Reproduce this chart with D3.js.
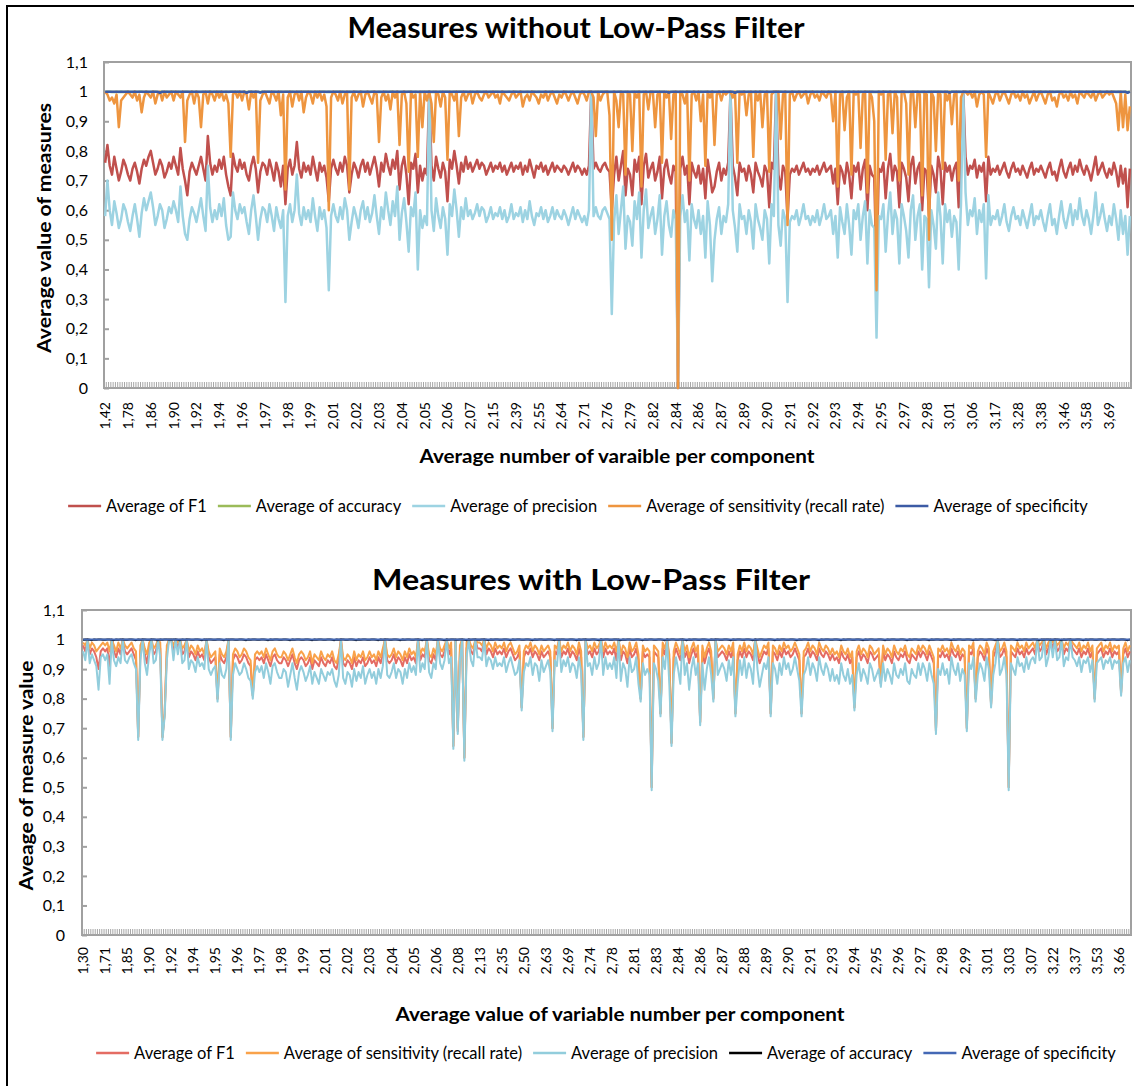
<!DOCTYPE html>
<html>
<head>
<meta charset="utf-8">
<script src="https://cdn.jsdelivr.net/npm/d3@7"></script>
<style>
  body { margin: 0; background: #fff; }
  svg { display: block; font-family: Lato, "Open Sans", sans-serif; }
</style>
</head>
<body>
<svg id="chart" width="1134" height="1086"></svg>
<script>
// ---------- top chart: measures without low-pass filter (values in %) ----------
var topLabels = ["1,42","1,78","1,86","1,90","1,92","1,94","1,96","1,97","1,98","1,99",
  "2,01","2,02","2,03","2,04","2,05","2,06","2,07","2,15","2,39","2,55","2,64","2,71",
  "2,76","2,79","2,82","2,84","2,86","2,87","2,89","2,90","2,91","2,92","2,93","2,94",
  "2,95","2,97","2,98","3,01","3,06","3,17","3,28","3,38","3,46","3,58","3,69"];

var topF1 = `
76 82 75 72 78 74 70 73 77 75  72 70 74 76 73 69 74 77 75 78  80 76 72 74 77 75 71 73 76 74
78 75 72 81 74 70 65 73 76 74  72 75 78 74 70 85 76 72 75 73  77 74 78 72 68 65 79 75 73 77
74 76 72 70 75 78 74 66 73 76  75 72 77 74 70 76 73 68 75 62  74 77 72 75 83 74 71 76 73 75
72 78 74 70 76 73 75 71 63 74  77 74 72 76 73 78 75 66 72 76  74 71 75 77 73 76 72 75 78 74
68 76 73 79 75 72 77 74 80 67  75 78 72 62 76 74 79 66 75 70  74 72 100 75 70 78 74 71 76 73
63 77 74 80 75 69 76 73 78 74  76 73 75 77 74 76 75 72 74 76  73 75 74 76 73 75 72 74 76 73
75 74 76 72 75 73 77 74 71 75  74 76 73 75 72 74 76 73 75 74  73 75 74 72 74 76 73 75 74 72
74 72 75 100 74 76 74 73 75 76  74 73 60 72 78 70 75 80 65 74  72 65 77 73 78 62 75 79 71 74
76 70 73 78 64 74 77 72 69 75  73 0 74 78 72 75 62 76 73 71  75 69 74 64 77 72 66 68 73 76
70 74 72 76 100 75 71 65 76 73  74 70 75 72 66 76 73 71 68 75  73 61 76 74 100 72 67 75 73 57
72 74 73 75 72 74 76 73 74 72  74 73 75 72 74 76 73 74 75 69  74 62 75 73 69 76 72 64 75 73
76 67 74 77 60 75 72 71 40 74  73 76 64 74 79 70 75 73 61 76  74 71 63 75 78 69 74 76 60 74
73 58 75 72 66 78 74 62 76 73  75 70 74 76 61 76 100 78 72 75  74 77 71 75 73 76 63 78 72 74
73 75 72 74 76 73 71 74 76 73  74 72 75 73 71 74 76 72 74 73  75 73 71 74 76 72 73 70 74 77
73 71 74 76 72 75 73 77 74 72  75 73 70 74 78 72 74 76 73 71  74 72 76 73 68 75 69 74 61 74`;

var topPrecision = `
58 70 60 55 63 59 54 57 62 60  56 53 58 62 57 51 59 64 60 63  66 61 55 58 62 60 54 57 61 59
63 60 56 68 58 52 50 57 61 59  56 60 64 58 53 75 61 56 60 57  62 58 64 55 50 51 66 60 57 62
59 61 56 52 60 65 58 50 57 61  60 56 62 58 53 61 57 54 60 29  58 62 56 60 72 59 55 61 57 60
56 64 58 53 61 57 60 54 33 58  62 58 56 61 57 64 60 50 56 61  58 54 60 63 57 61 56 59 65 58
52 61 57 66 60 55 63 58 68 50  59 64 56 46 61 58 66 40 60 54  58 55 100 60 53 64 58 54 61 57
45 62 58 67 60 51 61 57 64 58  60 57 59 62 58 61 60 56 58 61  57 59 58 61 57 60 56 58 62 57
59 58 61 56 60 57 63 58 55 59  58 61 57 60 56 58 61 57 60 58  57 60 58 55 58 61 57 60 58 56
58 55 60 100 58 61 58 57 60 61  59 57 25 56 65 52 60 68 47 58  56 48 63 57 66 44 60 67 54 58
61 52 57 65 45 58 63 55 51 60  57 0 58 65 56 60 43 62 57 54  60 52 58 44 63 55 36 50 57 61
52 58 56 62 100 60 54 46 62 57  58 52 60 56 47 62 57 54 50 60  57 42 62 58 100 55 48 60 57 29
56 58 57 60 55 58 62 57 58 55  58 56 60 55 58 62 57 58 60 52  58 44 61 56 52 62 55 45 60 57
62 50 58 63 42 60 55 54 17 58  57 62 46 58 66 52 60 57 42 62  58 53 44 60 65 50 58 62 40 58
57 34 60 55 47 66 58 42 62 56  60 51 58 56 40 62 100 66 55 60  58 64 52 60 56 62 37 65 55 58
57 60 55 58 62 56 53 58 61 57  58 55 60 57 54 58 62 55 58 57  60 56 53 58 62 55 57 52 58 63
57 54 58 62 55 60 57 64 58 55  60 57 52 58 66 55 58 62 57 53  58 55 62 57 50 60 52 58 45 58`;

var topSensitivity = `
100 99 97 98 96 99 88 97 98 99  100 99 98 100 97 99 93 98 100 99  98 100 96 99 100 97 100 98 99 100
97 100 99 98 100 83 97 99 100 96  100 98 88 99 100 96 100 99 97 100  98 100 97 99 96 78 99 100 98 100
97 100 99 94 100 98 100 76 97 99  100 98 96 100 99 97 100 92 99 67  98 100 95 99 100 97 100 93 98 100
99 96 100 98 100 97 99 95 60 98  100 99 97 100 96 99 100 67 98 100  97 99 100 95 99 100 98 96 100 99
83 98 100 97 99 94 100 98 100 82  99 100 96 73 100 98 99 78 100 88  100 97 100 96 83 100 99 95 100 98
77 100 99 97 100 85 98 100 97 99  100 96 99 100 98 97 99 100 98 99  100 98 99 96 100 99 98 97 99 100
98 99 100 95 98 99 97 100 99 98  96 99 98 100 97 99 100 98 96 99  98 100 99 97 99 100 98 96 99 100
99 97 100 100 98 85 100 97 99 100  100 92 50 100 97 88 100 99 72 100  99 80 100 98 100 68 99 100 94 100
100 88 99 100 76 100 98 100 84 99  100 0 100 99 96 100 70 99 100 97  100 90 99 75 100 98 100 82 99 100
97 100 99 100 100 98 100 76 100 99  100 92 99 100 78 100 97 100 88 99  100 73 99 100 100 100 84 99 100 55
99 100 97 99 100 98 99 100 96 99  100 98 99 97 100 99 98 100 99 90  100 68 99 100 87 98 100 72 100 99
100 81 99 100 66 100 98 90 33 100  99 100 77 99 100 86 100 98 70 100  100 96 72 99 100 88 100 99 65 100
99 50 100 98 80 100 99 74 100 97  100 89 99 100 70 98 100 100 99 100  98 100 95 99 100 99 78 100 98 96
99 100 97 99 100 98 96 99 100 98  99 97 100 98 99 96 98 100 97 99  100 98 96 99 100 97 98 95 99 100
98 99 97 100 98 99 96 100 99 98  100 99 98 100 97 99 100 98 99 100  99 100 98 96 87 100 88 99 87 95`;

// near-one series: each digit = thousandths below 1
var topAccuracy = `
10011010100110100101100110101001011001010110100101
01101001011010010110100101101001011010010110100101
10010110100101101001011010010110100101101001011010
01101001011010010110100101101001011010010110100101
10010110100101101001011010010110100101101001011010
01101001011010010110100101101001011010010110100101
10010110100101101001011010010110100101101001011010
01101001011010010110100101101001011010010110100101
10010110100101101001011010010110100101101001011010`;

var topSpecificity = `
00000000000000000000000040000000000000000000000000
00000000000040000030000000000000000000000000000000
00000000000000000000000000000000000000000000000000
00000000000000000000000000000000000000000000000000
00000000000000000000000000000000000000000000000300
00000000000000000000000000400000000000000000000000
00000000000000000000000000000000000000000000000000
00000000000000000000300000000000000000000000000000
00000000000000000000000000000000000000000000000040`;

// ---------- bottom chart: measures with low-pass filter (values in %) ----------
var bottomLabels = ["1,30","1,71","1,85","1,90","1,92","1,94","1,95","1,96","1,97","1,98",
  "1,99","2,01","2,02","2,03","2,04","2,05","2,06","2,08","2,13","2,35","2,50","2,63",
  "2,69","2,74","2,78","2,81","2,83","2,84","2,86","2,87","2,88","2,89","2,90","2,91",
  "2,93","2,94","2,95","2,96","2,97","2,98","2,99","3,01","3,03","3,07","3,22","3,37",
  "3,53","3,66"];

var bottomSensitivity = `
99 98 100 97 99 98 96 97 98 99  98 99 96 100 98 96 99 97 100 98  97 98 99 97 96 67 98 100 97 95
99 100 97 98 100 99 67 75 98 100  100 98 100 99 100 97 98 100 96 98  97 95 98 96 97 95 100 96 94 95
96 80 97 95 94 96 100 67 95 97  96 94 95 97 96 94 93 81 95 96  95 96 94 97 95 93 96 97 95 94
94 96 95 93 95 97 94 92 95 96  95 93 94 96 92 95 94 93 96 94  93 95 94 96 93 92 95 100 94 93
95 94 92 96 93 95 94 96 93 94  96 94 95 93 96 94 97 100 95 94  95 97 94 96 95 93 96 94 97 95
96 94 100 95 97 96 100 95 94 97  95 100 97 96 98 100 97 99 64 100  70 98 100 60 99 100 98 97 100 99
99 98 100 97 99 98 96 99 97 98  97 99 96 98 99 97 95 96 98 77  96 98 97 99 96 98 97 95 98 96
97 98 96 70 98 97 100 96 98 97  99 96 98 97 95 99 96 67 100 97  98 96 99 97 98 100 96 99 97 98
97 99 96 100 95 98 97 94 99 96  97 99 95 80 98 96 97 96 50 98  97 96 75 99 97 100 95 65 96 99
97 95 100 96 98 94 97 99 96 98  72 98 94 97 99 96 80 100 96 97  98 97 95 98 96 99 75 95 98 96
99 96 98 97 95 100 97 94 96 98  97 99 75 98 97 95 98 96 99 97  98 96 97 99 97 95 75 96 97 99
96 98 97 95 99 97 96 98 97 95  97 95 96 94 98 96 95 97 94 96  77 96 98 95 97 96 94 98 97 95
96 97 85 98 95 97 96 94 98 96  95 97 96 98 95 94 97 96 95 98  96 98 97 95 98 96 94 69 97 96
98 96 97 95 99 97 96 98 95 97  96 70 98 97 99 80 96 98 97 95  99 97 78 96 98 100 96 97 99 96
50 98 97 96 99 97 98 96 99 97  98 99 97 100 98 99 100 97 99 100  99 100 98 99 100 97 99 98 100 99
98 97 99 96 98 97 99 96 98 80  97 98 99 96 98 97 99 96 98 97  98 82 97 99 96 98`;

var bottomF1 = `
98 96 100 95 97 96 94 90 96 97  96 97 91 100 96 94 97 95 100 96  95 96 97 95 93 67 96 100 95 92
97 100 95 96 100 97 67 75 96 100  100 96 100 97 100 95 96 100 94 96  95 93 96 94 95 93 100 94 92 93
94 80 95 93 92 94 100 67 93 95  94 92 93 95 94 92 91 81 93 94  93 94 92 95 93 91 94 95 93 92
92 94 93 91 93 95 92 90 93 94  93 91 92 94 90 93 92 91 94 92  91 93 92 94 91 90 93 100 92 91
93 92 90 94 91 93 92 94 91 92  94 92 93 91 94 92 95 100 93 92  93 95 92 94 93 91 94 92 95 93
94 92 100 93 95 94 100 93 92 95  93 100 95 94 96 100 95 97 64 100  69 96 100 60 97 100 96 95 100 97
97 96 100 95 97 96 94 97 95 96  95 97 94 96 97 95 93 94 96 77  94 96 95 97 94 96 95 93 96 94
95 96 94 70 96 95 100 94 96 95  97 94 96 95 93 97 94 67 100 95  96 94 97 95 96 100 94 97 95 96
95 97 93 100 93 96 95 92 97 94  95 97 93 80 96 94 95 94 50 96  95 94 75 97 95 100 93 65 94 97
95 93 100 94 96 92 95 97 94 96  72 96 92 95 97 94 80 100 94 95  96 95 93 96 94 97 75 93 96 94
97 94 96 95 93 100 95 92 94 96  95 97 75 96 95 93 96 94 97 95  96 94 95 97 95 93 75 94 95 97
94 96 95 93 97 95 94 96 95 93  95 93 94 92 96 94 93 95 92 94  77 94 96 93 95 94 92 96 95 93
94 95 85 96 93 95 94 92 96 94  93 95 94 96 93 92 95 94 93 96  94 96 95 93 96 94 92 69 95 94
96 94 95 93 97 95 94 96 93 95  94 70 96 95 97 80 94 96 95 93  97 95 78 94 96 100 94 95 97 94
50 96 95 94 97 95 96 94 97 95  96 97 95 100 96 97 100 95 97 100  97 100 96 97 100 95 97 96 100 97
96 95 97 94 96 95 97 94 96 80  95 96 97 94 96 95 97 94 96 95  96 82 95 97 94 96`;

var bottomPrecision = `
96 93 100 92 95 93 91 83 94 95  93 95 85 100 93 91 94 92 100 93  92 94 95 92 90 66 93 100 92 88
95 100 92 93 100 94 66 74 93 100  100 93 100 95 100 92 93 100 90 93  92 89 94 91 92 90 100 90 88 90
91 79 92 88 87 90 100 66 88 92  90 88 89 92 90 87 86 80 89 91  89 91 87 92 89 85 91 92 89 87
87 90 89 84 88 92 87 83 89 91  89 86 88 91 85 89 87 85 90 88  86 89 88 90 86 84 88 100 87 85
89 88 84 90 86 89 87 91 85 88  90 87 89 85 90 87 91 100 88 87  89 92 87 90 89 85 90 87 92 89
91 88 100 89 92 90 100 89 87 92  90 100 92 90 93 100 92 94 63 100  68 93 100 59 94 100 93 91 100 94
94 93 100 91 94 93 90 94 91 92  91 94 89 92 94 91 88 89 93 76  89 92 91 94 88 92 91 86 93 89
91 93 89 69 93 91 100 89 93 91  94 89 92 91 87 94 89 66 100 91  92 88 94 90 92 100 88 94 90 92
90 94 87 100 86 92 90 84 94 89  90 94 85 79 92 88 90 88 49 92  90 86 74 94 90 100 85 64 88 94
90 85 100 88 92 83 90 94 88 92  71 92 83 90 94 88 79 100 88 90  92 90 86 93 88 94 74 85 93 88
94 87 92 90 85 100 90 84 88 92  90 94 74 92 90 85 92 88 94 90  92 88 90 94 90 86 74 88 90 94
88 92 90 86 94 90 88 92 90 86  90 86 88 85 92 88 86 90 85 88  76 88 92 86 90 88 85 92 90 86
88 90 84 92 86 90 88 85 92 88  87 90 88 92 86 85 90 88 87 92  88 92 90 86 92 88 85 68 90 88
92 88 90 85 94 90 88 92 86 90  88 69 92 90 94 79 88 92 90 86  94 90 77 88 92 100 88 90 94 88
49 92 90 88 94 91 92 89 94 90  93 94 92 100 93 94 100 91 94 100  94 100 93 94 100 91 94 93 100 94
93 91 94 89 93 92 94 89 93 79  92 93 94 90 93 92 94 90 93 92  93 81 92 94 89 93`;

var bottomAccuracy = `
10012010011001201001100120100110012010011001201001
10012010011001201001100120100110012010011001201001
10012010011001201001100120100110012010011001201001
10012010011001201001100120100110012010011001201001
10012010011001201001100120100110012010011001201001
10012010011001201001100120100110012010011001201001
10012010011001201001100120100110012010011001201001
10012010011001201001100120100110012010011001201001
10012010011001201001100120100110012010011001201001
10012010011001201001100120`;

var bottomSpecificity = `
00000000000000000000000000000000000000000000000000
00000000000000000000000000000000000000000000000000
00000000000000000000000000000000000000000000000000
00000000000000000000000000000000000000000000000000
00000000000000000000000000000000000000000000000000
00000000000000000000000000000000000000000000000000
00000000000000000000000000000000000000000000000000
00000000000000000000000000000000000000000000000000
00000000000000000000000000000000000000000000000000
00000000000000000000000000`;

function pct(s) { return s.trim().split(/\s+/).map(function(d) { return +d / 100; }); }
function nearOne(s) { return s.replace(/\s+/g, "").split("").map(function(c) { return 1 - (+c) / 1000; }); }

var charts = [
  {
    title: "Measures without Low-Pass Filter", titleX: 576, titleY: 38, titleW: 457,
    left: 104, right: 1131, top: 62, bottom: 388,
    yTitle: "Average value of measures", yTitleX: 51, yTitleW: 250,
    xTitle: "Average number of varaible per component", xTitleX: 617, xTitleY: 463, xTitleW: 395,
    labels: topLabels, step: 10, yPad: 16, xLabGap: 14,
    legendY: 506, legendCx: 578, lineWidth: 2.5,
    series: [
      { name: "Average of F1", values: pct(topF1), color: "#C0504D" },
      { name: "Average of accuracy", values: nearOne(topAccuracy), color: "#9BBB59" },
      { name: "Average of precision", values: pct(topPrecision), color: "#9DD3E2" },
      { name: "Average of sensitivity (recall rate)", values: pct(topSensitivity), color: "#EE953F" },
      { name: "Average of specificity", values: nearOne(topSpecificity), color: "#3C5BA5" }
    ]
  },
  {
    title: "Measures with Low-Pass Filter", titleX: 591, titleY: 590, titleW: 438,
    left: 82, right: 1131, top: 610, bottom: 935,
    yTitle: "Aveage of measure value", yTitleX: 33, yTitleW: 230,
    xTitle: "Average value of variable number per component", xTitleX: 620, xTitleY: 1021, xTitleW: 449,
    labels: bottomLabels, step: 10, yPad: 17, xLabGap: 12,
    legendY: 1053, legendCx: 606, lineWidth: 2,
    series: [
      { name: "Average of F1", values: pct(bottomF1), color: "#E46C63" },
      { name: "Average of sensitivity (recall rate)", values: pct(bottomSensitivity), color: "#F9A24A" },
      { name: "Average of precision", values: pct(bottomPrecision), color: "#92CDDC" },
      { name: "Average of accuracy", values: nearOne(bottomAccuracy), color: "#000000" },
      { name: "Average of specificity", values: nearOne(bottomSpecificity), color: "#4468B5" }
    ]
  }
];

var svg = d3.select("#chart");

// outer frame (right and bottom edges fall off the picture)
svg.append("rect")
  .attr("x", 7).attr("y", 6).attr("width", 1140).attr("height", 1100)
  .attr("fill", "none").attr("stroke", "#000").attr("stroke-width", 2);

var commaFmt = function(d) { return d3.format(".1~f")(d).replace(".", ","); };

charts.forEach(drawChart);

function drawChart(c) {
  var g = svg.append("g");
  var n = d3.max(c.series, function(s) { return s.values.length; });
  var x = d3.scaleBand().domain(d3.range(n)).range([c.left, c.right]);
  var y = d3.scaleLinear().domain([0, 1.1]).range([c.bottom, c.top]);
  var cx = function(i) { return x(i) + x.bandwidth() / 2; };

  // title
  g.append("text")
    .attr("x", c.titleX).attr("y", c.titleY)
    .attr("text-anchor", "middle")
    .attr("font-size", 28).attr("font-weight", "bold")
    .attr("textLength", c.titleW).attr("lengthAdjust", "spacingAndGlyphs")
    .text(c.title);

  // plot border
  g.append("rect")
    .attr("x", c.left).attr("y", c.top)
    .attr("width", c.right - c.left).attr("height", c.bottom - c.top)
    .attr("fill", "none").attr("stroke", "#a0a0a0").attr("stroke-width", 2);

  // dense category ticks
  g.append("g").selectAll("line")
    .data(d3.range(n + 1))
    .join("line")
      .attr("x1", function(i) { return c.left + i * x.bandwidth(); })
      .attr("x2", function(i) { return c.left + i * x.bandwidth(); })
      .attr("y1", c.bottom).attr("y2", c.bottom - 6)
      .attr("stroke", "#a6a6a6").attr("stroke-width", 1);

  // y axis
  var yAxis = d3.axisLeft(y)
    .tickValues(d3.range(0, 12).map(function(k) { return k / 10; }))
    .tickSize(-5).tickPadding(c.yPad).tickFormat(commaFmt);
  var ya = g.append("g").attr("transform", "translate(" + c.left + ",0)").call(yAxis);
  ya.select(".domain").remove();
  ya.selectAll("line").attr("stroke", "#a0a0a0").attr("stroke-width", 2);
  ya.selectAll("text").attr("fill", "#000").attr("font-size", 16)
    .attr("font-family", "Lato, 'Open Sans', sans-serif");

  // x tick labels (every step-th category)
  g.append("g").selectAll("text")
    .data(c.labels.filter(function(d, k) { return k * c.step < n; }))
    .join("text")
      .attr("transform", function(d, k) {
        return "translate(" + cx(k * c.step) + "," + (c.bottom + c.xLabGap) + ") rotate(-90)";
      })
      .attr("text-anchor", "end").attr("dy", "0.35em")
      .attr("font-size", 14)
      .text(function(d) { return d; });

  // axis titles
  g.append("text")
    .attr("transform", "translate(" + c.yTitleX + "," + ((c.top + c.bottom) / 2 + 3) + ") rotate(-90)")
    .attr("text-anchor", "middle")
    .attr("font-size", 18).attr("font-weight", "bold")
    .attr("textLength", c.yTitleW).attr("lengthAdjust", "spacingAndGlyphs")
    .text(c.yTitle);
  g.append("text")
    .attr("x", c.xTitleX).attr("y", c.xTitleY)
    .attr("text-anchor", "middle")
    .attr("font-size", 18).attr("font-weight", "bold")
    .attr("textLength", c.xTitleW).attr("lengthAdjust", "spacingAndGlyphs")
    .text(c.xTitle);

  // series lines
  var line = d3.line()
    .x(function(d, i) { return cx(i); })
    .y(function(d) { return y(d); });
  g.append("g").selectAll("path")
    .data(c.series)
    .join("path")
      .attr("d", function(s) { return line(s.values); })
      .attr("fill", "none")
      .attr("stroke", function(s) { return s.color; })
      .attr("stroke-width", c.lineWidth)
      .attr("stroke-linejoin", "round");

  // legend, laid out from measured text widths and centred
  var lg = g.append("g");
  var items = lg.selectAll("g").data(c.series).join("g");
  items.append("line")
    .attr("x1", 0).attr("x2", 33).attr("y1", 0).attr("y2", 0)
    .attr("stroke", function(s) { return s.color; }).attr("stroke-width", 2.5);
  items.append("text")
    .attr("x", 38).attr("dy", "0.35em").attr("font-size", 16.5)
    .text(function(s) { return s.name; });
  var gap = 11, pos = 0, offsets = [];
  items.each(function() {
    offsets.push(pos);
    pos += 38 + d3.select(this).select("text").node().getComputedTextLength() + gap;
  });
  var start = c.legendCx - (pos - gap) / 2;
  items.attr("transform", function(s, i) { return "translate(" + (start + offsets[i]) + "," + c.legendY + ")"; });
}
</script>
</body>
</html>
